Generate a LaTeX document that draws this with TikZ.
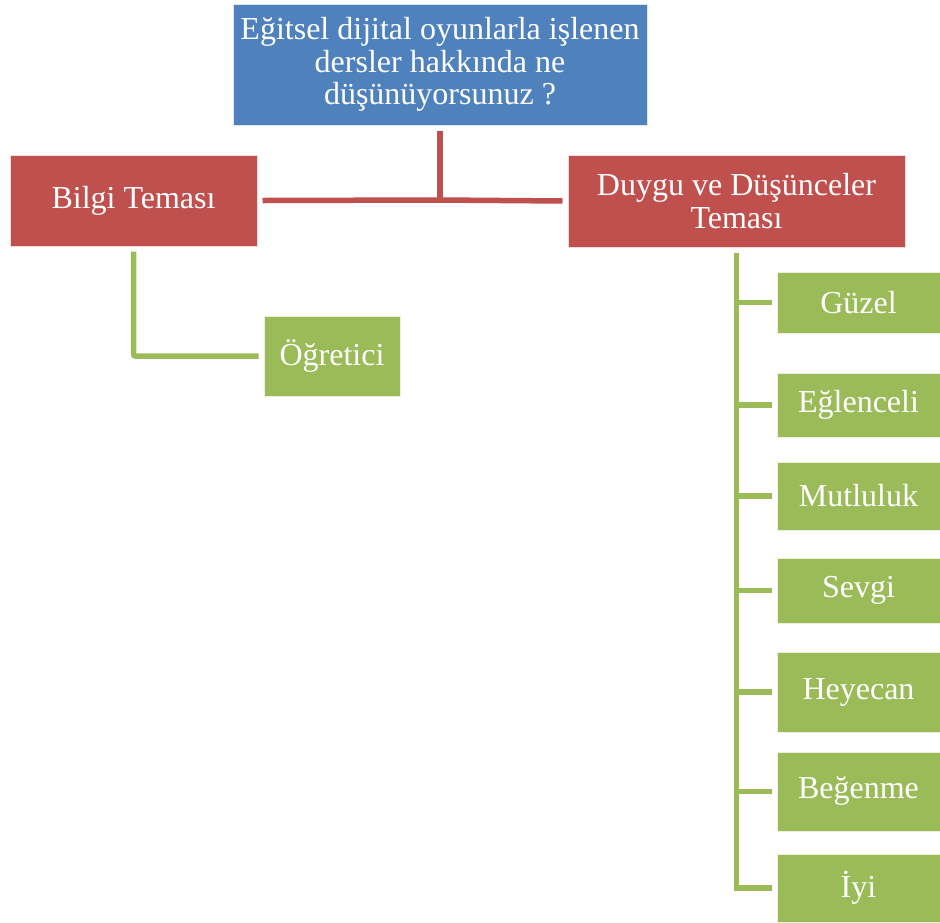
\documentclass[tikz,border=0pt]{standalone}
\usepackage{fontspec}
\setmainfont{Liberation Serif}
\usepackage{tikz}
\usetikzlibrary{positioning,calc}
\definecolor{qblue}{HTML}{4F81BD}
\definecolor{tred}{HTML}{C0504D}
\definecolor{igreen}{HTML}{9BBB59}
\begin{document}
\begin{tikzpicture}[
x=1pt,y=-1pt,
QuestionBox/.style={fill=qblue,draw=white!80!qblue,line width=0.8pt,text=white,align=center,inner sep=0pt,outer sep=5.5pt},
ThemeBox/.style={fill=tred,draw=white!80!tred,line width=0.8pt,text=white,align=center,inner sep=0pt,outer sep=5.5pt},
ItemBox/.style={fill=igreen,draw=white!80!igreen,line width=0.8pt,text=white,align=center,inner sep=0pt,outer sep=5.5pt},
RedLinks/.style={draw=tred,line width=5.5pt},
GreenLinks/.style={draw=igreen,line width=5.5pt},
every node/.style={font=\fontsize{32}{32.5}\selectfont}
]
\useasboundingbox (0,0) rectangle (940,922);

% question on top
\node[QuestionBox,minimum width=414,minimum height=121] (Q) at (440,64.5)
  {Eğitsel dijital oyunlarla işlenen\\dersler hakkında ne\\düşünüyorsunuz ?};

% the two themes
\node[ThemeBox,minimum width=247,minimum height=91] (Bilgi) at (133.5,200.5) {Bilgi Teması};
\node[ThemeBox,minimum width=337,minimum height=92] (Duygu) at (736.5,201) {Duygu ve Düşünceler\\Teması};

\coordinate (Hub) at (Q.south |- 0,200);
\draw[RedLinks] (Q.south) -- (Hub);
\draw[RedLinks] (Bilgi.east) -- (Hub);
\draw[RedLinks] (Hub) -- (Duygu.west);

% Bilgi branch
\node[ItemBox,minimum width=136,minimum height=80] (Ogretici) at (332,356) {Öğretici};
\draw[GreenLinks,rounded corners=2pt] (Bilgi.south) |- (Ogretici.west);

% Duygu branch
\foreach \name/\txt/\yc/\h in {Guzel/Güzel/302.5/61, Eglenceli/Eğlenceli/405/64,
  Mutluluk/Mutluluk/496/68, Sevgi/Sevgi/590.5/65, Heyecan/Heyecan/692/80,
  Begenme/Beğenme/791.5/79, Iyi/İyi/888/68}{
  \node[ItemBox,minimum width=163,minimum height=\h] (\name) at (858.5,\yc) {\txt};
  \draw[GreenLinks] (Duygu.south |- \name.west) -- (\name.west);
}
\draw[GreenLinks] (Duygu.south) -- ([yshift=-2.75]Duygu.south |- Iyi.west);

\end{tikzpicture}
\end{document}
